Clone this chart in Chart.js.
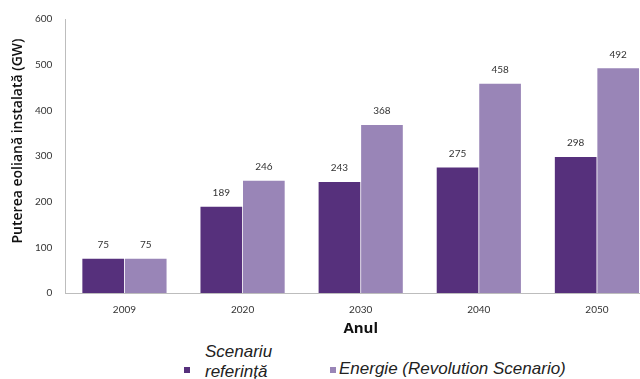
<!DOCTYPE html>
<html>
<head>
<meta charset="utf-8">
<script src="https://cdn.jsdelivr.net/npm/chart.js@4/dist/chart.umd.min.js"></script>
<style>
  html, body { margin: 0; padding: 0; background: #fff; overflow: hidden; }
  #wrap { position: relative; width: 640px; height: 379px; overflow: hidden; }
  #box { position: absolute; left: 0; top: 0; width: 656px; height: 340px; }
  .leg { position: absolute; font-family: "Liberation Sans", Arial, sans-serif; font-style: italic; font-size: 17px; color: #222; line-height: 20px; white-space: nowrap; }
  .sw { position: absolute; width: 6px; height: 6px; }
</style>
</head>
<body>
<div id="wrap">
  <div id="box"><canvas id="chart"></canvas></div>
  <div class="sw" style="left:184px; top:367px; background:#56307c"></div>
  <div class="leg" style="left:205px; top:342px">Scenariu<br>referință</div>
  <div class="sw" style="left:330px; top:367px; background:#9985b7"></div>
  <div class="leg" style="left:339px; top:359px">Energie (Revolution Scenario)</div>
</div>
<script>
const years = ['2009', '2020', '2030', '2040', '2050'];
const referenceScenario = [75, 189, 243, 275, 298];
const revolutionScenario = [75, 246, 368, 458, 492];
const yTicks = [0, 100, 200, 300, 400, 500, 600];
const yTitle = 'Puterea eoliană instalată (GW)';

// writes each bar's value just above its top
const valueLabels = {
  id: 'valueLabels',
  afterDatasetsDraw(chart) {
    const ctx = chart.ctx;
    ctx.save();
    ctx.font = '10px Lato, "Open Sans", sans-serif';
    ctx.fillStyle = '#333';
    ctx.textAlign = 'center';
    ctx.textBaseline = 'bottom';
    chart.data.datasets.forEach((ds, i) => {
      chart.getDatasetMeta(i).data.forEach((bar, j) => {
        ctx.fillText(ds.data[j], bar.x, bar.y - 9);
      });
    });
    ctx.restore();
  },
};

// vertical axis title, sitting a bit above the plot's middle
const sideTitle = {
  id: 'sideTitle',
  afterDraw(chart) {
    const ctx = chart.ctx;
    ctx.save();
    ctx.translate(18, 141);
    ctx.rotate(-Math.PI / 2);
    ctx.font = '600 14px "Open Sans", sans-serif';
    ctx.fillStyle = '#111';
    ctx.textAlign = 'center';
    ctx.textBaseline = 'middle';
    ctx.fillText(yTitle, 0, 0);
    ctx.restore();
  },
};

new Chart(document.getElementById('chart'), {
  type: 'bar',
  data: {
    labels: years,
    datasets: [
      {
        label: 'Scenariu referință',
        data: referenceScenario,
        backgroundColor: '#56307c',
        categoryPercentage: 0.72,
        barPercentage: 0.98,
      },
      {
        label: 'Energie (Revolution Scenario)',
        data: revolutionScenario,
        backgroundColor: '#9985b7',
        categoryPercentage: 0.72,
        barPercentage: 0.98,
      },
    ],
  },
  options: {
    responsive: true,
    maintainAspectRatio: false,
    animation: false,
    layout: { padding: { top: 8, left: 22, right: 0, bottom: 2 } },
    plugins: {
      legend: { display: false },
      tooltip: { enabled: false },
    },
    scales: {
      x: {
        grid: { display: false, drawTicks: false },
        border: { color: '#bdbdbd', width: 1 },
        ticks: { color: '#333', padding: 11, font: { family: 'Lato, "Open Sans", sans-serif', size: 10 } },
        title: {
          display: true,
          text: 'Anul',
          color: '#111',
          padding: { top: -7, bottom: 0 },
          font: { family: '"Open Sans", sans-serif', size: 15, weight: 'bold' },
        },
      },
      y: {
        min: 0,
        max: 600,
        afterBuildTicks: (scale) => { scale.ticks = yTicks.map((v) => ({ value: v })); },
        grid: { display: false, drawTicks: false },
        border: { color: '#bdbdbd', width: 1 },
        ticks: { color: '#333', padding: 13, font: { family: 'Lato, "Open Sans", sans-serif', size: 10 } },
      },
    },
  },
  plugins: [valueLabels, sideTitle],
});
</script>
</body>
</html>
